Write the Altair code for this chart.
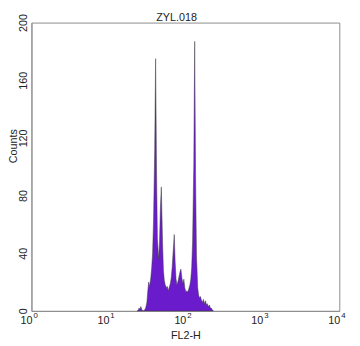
import altair as alt
import pandas as pd

# FL2-H channel (0-1023, 4-decade log scale) and counts per channel
channels = [351, 354, 358, 361, 364, 367, 371, 374, 377, 380,
            384, 387, 390, 393, 397, 400, 403, 406, 410, 413,
            416, 419, 423, 426, 429, 432, 436, 439, 442, 445,
            449, 452, 455, 458, 462, 465, 468, 471, 475, 478,
            481, 484, 488, 491, 494, 497, 501, 504, 507, 510,
            514, 517, 520, 523, 527, 530, 533, 536, 540, 543,
            546, 549, 553, 556, 559, 562, 566, 569, 572, 575,
            579, 582, 585, 588, 592, 595, 598, 601, 605]
counts = [0, 0, 2, 1, 3, 1, 0, 0, 1, 2,
          6, 14, 20, 17, 23, 30, 40, 62, 112, 175,
          98, 50, 36, 48, 72, 86, 48, 28, 21, 18,
          16, 17, 14, 16, 19, 23, 30, 40, 53, 34,
          22, 18, 21, 24, 27, 29, 22, 19, 22, 16,
          13, 14, 13, 15, 18, 22, 30, 48, 102, 187,
          92, 38, 16, 11, 9, 10, 7, 6, 8, 5,
          7, 4, 5, 3, 4, 2, 2, 1, 0]

tick_values = [1, 10, 100, 1000, 10000]
tick_exponents = ["0", "1", "2", "3", "4"]
y_ticks = [0, 40, 80, 120, 160, 200]
title_text = ["ZYL.018"]

W, H = 315, 295
FONT = "Liberation Sans"

hist = pd.DataFrame({
    "fl2h": [10 ** (c / 256) for c in channels],
    "count": counts,
})
ticks = pd.DataFrame({"v": tick_values, "e": tick_exponents})
title_df = pd.DataFrame({"t": title_text})

xscale = alt.Scale(type="log", domain=[1, 10000], nice=False)
yscale = alt.Scale(domain=[0, 200], nice=False)

area = alt.Chart(hist).mark_area(
    fill="#6a1ccc", stroke="#3c3c3c", strokeWidth=0.5, interpolate="linear"
).encode(
    x=alt.X("fl2h:Q", scale=xscale,
            axis=alt.Axis(values=tick_values, labels=False, ticks=False, grid=False,
                          domainColor="#8c8c8c", title="FL2-H", titleFontSize=11,
                          titleFont=FONT, titleFontWeight="normal", titleColor="#222",
                          titleY=28, titleBaseline="alphabetic")),
    y=alt.Y("count:Q", scale=yscale,
            axis=alt.Axis(values=y_ticks, ticks=False, grid=False, domainColor="#8c8c8c",
                          labelAngle=270, labelAlign="center", labelBaseline="alphabetic",
                          labelPadding=5, labelFontSize=11, labelFont=FONT, labelColor="#222",
                          title="Counts", titleAngle=270, titleFontSize=11, titleFont=FONT,
                          titleFontWeight="normal", titleColor="#222", titleX=-15,
                          titleY=126, titleAlign="center", titleBaseline="alphabetic")),
)

base_lbl = alt.Chart(ticks).mark_text(
    align="right", baseline="alphabetic", dx=1, fontSize=11, font=FONT, color="#222"
).encode(x=alt.X("v:Q", scale=xscale), y=alt.value(H + 13), text=alt.value("10"))

exp_lbl = alt.Chart(ticks).mark_text(
    align="left", baseline="alphabetic", dx=2, fontSize=8, font=FONT, color="#222"
).encode(x=alt.X("v:Q", scale=xscale), y=alt.value(H + 7), text="e:N")

title_lbl = alt.Chart(title_df).mark_text(
    align="center", baseline="alphabetic", fontSize=11, font=FONT, color="#222"
).encode(x=alt.value(W / 2 - 9), y=alt.value(-2), text="t:N")

chart = alt.layer(area, base_lbl, exp_lbl, title_lbl).properties(
    width=W, height=H,
    autosize=alt.AutoSizeParams(type="none"),
    padding={"left": 24, "top": 11, "right": 13, "bottom": 32},
).configure_view(stroke="#8c8c8c", strokeWidth=1)

chart.save("out.html", embed_options={"renderer": "svg", "actions": False})
